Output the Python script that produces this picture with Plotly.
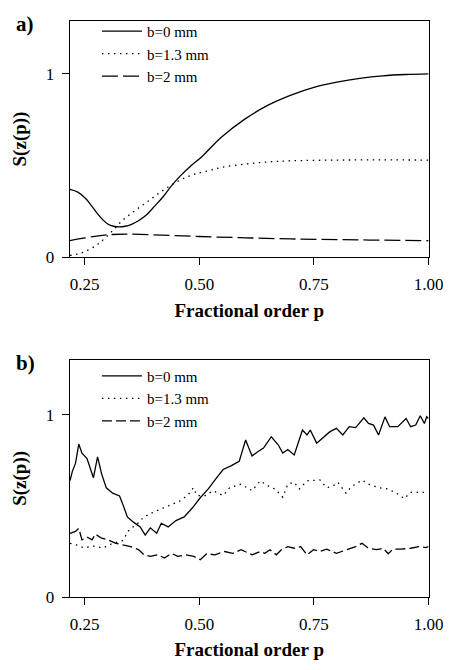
import plotly.graph_objects as go
from plotly.subplots import make_subplots

# ---- panel a): smooth curves ----
p_a0 = [0.218, 0.235, 0.252, 0.265, 0.279, 0.290, 0.301, 0.313, 0.326, 0.338, 0.351, 0.368,
        0.385, 0.403, 0.421, 0.440, 0.457, 0.480, 0.506, 0.548, 0.600, 0.650, 0.700, 0.750,
        0.800, 0.850, 0.900, 0.950, 1.000]
s_a0 = [0.370, 0.355, 0.320, 0.280, 0.234, 0.203, 0.180, 0.169, 0.166, 0.169, 0.178, 0.200,
        0.232, 0.280, 0.330, 0.392, 0.440, 0.495, 0.550, 0.655, 0.755, 0.830, 0.885, 0.927,
        0.955, 0.976, 0.990, 0.997, 1.000]

p_a13 = [0.218, 0.235, 0.252, 0.279, 0.309, 0.332, 0.360, 0.385, 0.415, 0.443, 0.470, 0.492,
         0.520, 0.548, 0.600, 0.650, 0.700, 0.800, 0.900, 1.000]
s_a13 = [0.010, 0.018, 0.032, 0.072, 0.140, 0.200, 0.255, 0.300, 0.355, 0.400, 0.435, 0.455,
         0.472, 0.490, 0.508, 0.520, 0.526, 0.530, 0.531, 0.530]

p_a2 = [0.218, 0.250, 0.280, 0.310, 0.340, 0.400, 0.500, 0.600, 0.700, 0.800, 0.900, 1.000]
s_a2 = [0.090, 0.105, 0.117, 0.124, 0.126, 0.122, 0.113, 0.106, 0.100, 0.096, 0.093, 0.090]

# ---- panel b): noisy measured curves ----
p_b0 = [0.218, 0.223, 0.230, 0.237, 0.244, 0.255, 0.269, 0.278, 0.287, 0.297, 0.311, 0.326,
        0.333, 0.343, 0.357, 0.371, 0.382, 0.393, 0.407, 0.417, 0.432, 0.449, 0.467, 0.485,
        0.502, 0.520, 0.538, 0.552, 0.569, 0.587, 0.601, 0.615, 0.629, 0.640, 0.657, 0.672,
        0.682, 0.693, 0.707, 0.725, 0.735, 0.742, 0.756, 0.771, 0.785, 0.799, 0.813, 0.827,
        0.841, 0.859, 0.869, 0.880, 0.891, 0.905, 0.915, 0.933, 0.951, 0.961, 0.972, 0.982,
        0.991, 0.996, 1.000]
s_b0 = [0.640, 0.690, 0.735, 0.840, 0.790, 0.760, 0.655, 0.770, 0.675, 0.600, 0.570, 0.555,
        0.510, 0.440, 0.410, 0.385, 0.340, 0.380, 0.350, 0.405, 0.385, 0.420, 0.440, 0.490,
        0.545, 0.595, 0.655, 0.700, 0.720, 0.745, 0.862, 0.775, 0.800, 0.818, 0.880, 0.836,
        0.790, 0.810, 0.780, 0.917, 0.890, 0.917, 0.845, 0.880, 0.908, 0.926, 0.890, 0.935,
        0.930, 0.984, 0.953, 0.944, 0.890, 0.989, 0.935, 0.935, 0.980, 0.935, 0.944, 0.995,
        0.953, 0.990, 0.980]

p_b13 = [0.218, 0.234, 0.248, 0.269, 0.290, 0.311, 0.333, 0.347, 0.364, 0.379, 0.400, 0.417,
         0.439, 0.460, 0.477, 0.487, 0.495, 0.513, 0.530, 0.552, 0.566, 0.591, 0.615, 0.633,
         0.650, 0.665, 0.682, 0.693, 0.707, 0.718, 0.735, 0.763, 0.778, 0.792, 0.802, 0.820,
         0.831, 0.855, 0.869, 0.891, 0.912, 0.933, 0.947, 0.961, 0.979, 0.994]
s_b13 = [0.295, 0.285, 0.270, 0.280, 0.270, 0.295, 0.310, 0.370, 0.400, 0.440, 0.466, 0.485,
         0.510, 0.530, 0.566, 0.600, 0.557, 0.557, 0.584, 0.557, 0.600, 0.620, 0.584, 0.638,
         0.610, 0.593, 0.548, 0.620, 0.630, 0.593, 0.638, 0.643, 0.600, 0.610, 0.630, 0.570,
         0.605, 0.642, 0.620, 0.600, 0.593, 0.566, 0.540, 0.575, 0.575, 0.575]

p_b2 = [0.218, 0.230, 0.237, 0.244, 0.255, 0.266, 0.273, 0.287, 0.301, 0.318, 0.333, 0.350,
        0.368, 0.379, 0.393, 0.410, 0.424, 0.439, 0.453, 0.470, 0.488, 0.502, 0.516, 0.534,
        0.555, 0.573, 0.591, 0.601, 0.615, 0.633, 0.643, 0.654, 0.668, 0.679, 0.693, 0.707,
        0.721, 0.735, 0.749, 0.763, 0.778, 0.799, 0.820, 0.841, 0.855, 0.869, 0.887, 0.901,
        0.912, 0.922, 0.940, 0.961, 0.979, 0.993, 1.000]
s_b2 = [0.350, 0.360, 0.377, 0.314, 0.330, 0.314, 0.346, 0.323, 0.314, 0.295, 0.286, 0.277,
        0.260, 0.232, 0.223, 0.232, 0.214, 0.240, 0.223, 0.232, 0.223, 0.205, 0.238, 0.232,
        0.250, 0.240, 0.260, 0.250, 0.232, 0.250, 0.240, 0.260, 0.232, 0.260, 0.277, 0.268,
        0.277, 0.232, 0.260, 0.250, 0.263, 0.240, 0.260, 0.277, 0.295, 0.268, 0.260, 0.268,
        0.238, 0.263, 0.263, 0.268, 0.277, 0.272, 0.277]

x_ticks = [0.25, 0.50, 0.75, 1.00]
x_tick_text = ["0.25", "0.50", "0.75", "1.00"]
y_ticks = [0, 1]
y_tick_text = ["0", "1"]
names = ["b=0 mm", "b=1.3 mm", "b=2 mm"]

W, H = 451, 670
SERIF = "Liberation Serif, Times New Roman, serif"
INK = "black"

fig = make_subplots(rows=2, cols=1)

panels = [
    (1, "legend", [(p_a0, s_a0), (p_a13, s_a13), (p_a2, s_a2)], "spline",
     ["solid", "1.5px,4.5px", "16px,5px"]),
    (2, "legend2", [(p_b0, s_b0), (p_b13, s_b13), (p_b2, s_b2)], "linear",
     ["solid", "1.5px,4.5px", "10px,4px"]),
]
for row, legend_id, series, shape, dashes in panels:
    for (xs, ys), name, dash in zip(series, names, dashes):
        fig.add_trace(
            go.Scatter(x=xs, y=ys, mode="lines", name=name, legend=legend_id,
                       line=dict(color=INK, width=1.3, dash=dash, shape=shape)),
            row=row, col=1,
        )

axis_common = dict(
    showline=True, linecolor=INK, linewidth=1.3, mirror=True,
    ticks="outside", ticklen=7, tickwidth=1.2, tickcolor=INK,
    showgrid=False, zeroline=False,
    tickfont=dict(family=SERIF, size=17, color=INK),
)
fig.update_xaxes(range=[0.2176, 1.0], tickvals=x_ticks, ticktext=x_tick_text,
                 domain=[64 / W, 435 / W], ticklabelstandoff=4,
                 title=dict(text="<b>Fractional order p</b>", standoff=10,
                            font=dict(family=SERIF, size=19, color=INK)),
                 **axis_common)
fig.update_yaxes(tickvals=y_ticks, ticktext=y_tick_text, ticklabelstandoff=4,
                 title=dict(text="<b>S(z(p))</b>", standoff=14,
                            font=dict(family=SERIF, size=19, color=INK)),
                 **axis_common)
fig.update_yaxes(range=[0, 1.29], domain=[1 - 253 / H, 1 - 13 / H], row=1, col=1)
fig.update_yaxes(range=[0, 1.303], domain=[1 - 598 / H, 1 - 357 / H], row=2, col=1)

legend_common = dict(
    xanchor="left", yanchor="top", bgcolor="rgba(0,0,0,0)", borderwidth=0,
    font=dict(family=SERIF, size=15, color=INK), itemwidth=40,
)
fig.update_layout(
    width=W, height=H,
    margin=dict(l=0, r=0, t=0, b=0),
    paper_bgcolor="white", plot_bgcolor="white",
    showlegend=True,
    legend=dict(x=92 / W, y=1 - 7 / H, **legend_common),
    legend2=dict(x=92 / W, y=1 - 357 / H, **legend_common),
)

for label, ypx in [("<b>a)</b>", 16), ("<b>b)</b>", 360)]:
    fig.add_annotation(xref="paper", yref="paper", x=6 / W, y=1 - ypx / H,
                       xanchor="left", yanchor="middle", showarrow=False, text=label,
                       font=dict(family=SERIF, size=21, color=INK))

fig.write_html("out.html")
